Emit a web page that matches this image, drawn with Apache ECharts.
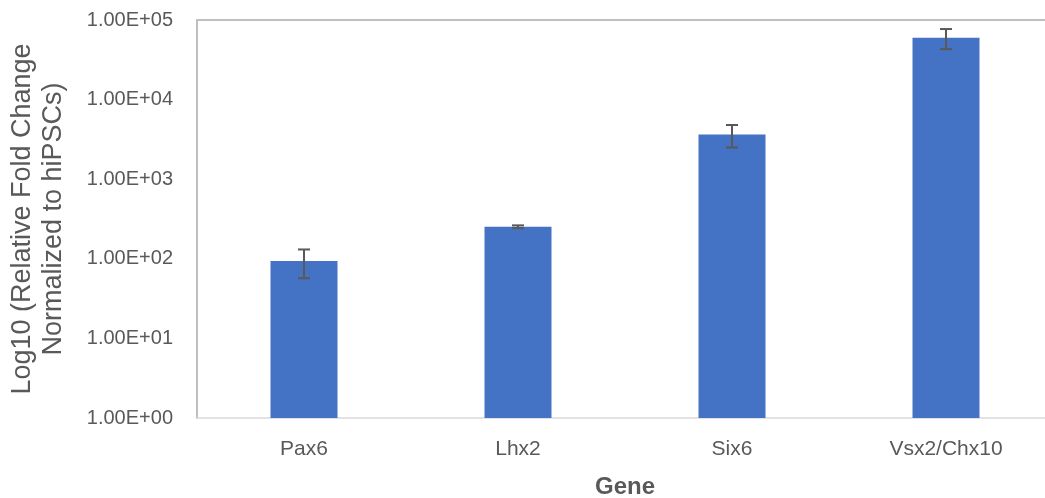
<!DOCTYPE html>
<html>
<head>
<meta charset="utf-8">
<script src="https://cdn.jsdelivr.net/npm/echarts@6/dist/echarts.min.js"></script>
<style>
html,body{margin:0;padding:0;background:#fff;}
#chart{width:1045px;height:498px;}
</style>
</head>
<body>
<div id="chart"></div>
<script>
const categories = ['Pax6', 'Lhx2', 'Six6', 'Vsx2/Chx10'];
const means = [94, 253, 3650, 60000];
const errors = [37, 10, 1150, 17000];
const yTicks = [1, 10, 100, 1000, 10000, 100000];

function sciLabel(v) {
  const e = Math.round(Math.log10(v));
  const m = v / Math.pow(10, e);
  const es = (e < 0 ? '-' : '+') + String(Math.abs(e)).padStart(2, '0');
  return m.toFixed(2) + 'E' + es;
}

const errData = categories.map((c, i) => [i, means[i] - errors[i], means[i] + errors[i]]);

const chart = echarts.init(document.getElementById('chart'), null, {renderer: 'canvas'});
chart.setOption({
  animation: false,
  grid: {left: 197, right: -8, top: 20, bottom: 80, containLabel: false, outerBoundsMode: 'none'},
  xAxis: [{
    type: 'category',
    data: categories,
    position: 'bottom',
    axisLine: {show: true, lineStyle: {color: '#d9d9d9', width: 1.5}},
    axisTick: {show: false},
    axisLabel: {color: '#595959', fontSize: 21, fontFamily: 'Liberation Sans', margin: 21},
    name: 'Gene',
    nameLocation: 'middle',
    nameGap: 57,
    nameTextStyle: {color: '#595959', fontSize: 24, fontWeight: 'bold', fontFamily: 'Liberation Sans'}
  }, {
    type: 'category',
    data: categories,
    position: 'top',
    axisLine: {show: true, lineStyle: {color: '#bfbfbf', width: 2}},
    axisTick: {show: false},
    axisLabel: {show: false}
  }],
  yAxis: {
    type: 'log',
    logBase: 10,
    min: yTicks[0],
    max: yTicks[yTicks.length - 1],
    axisLine: {show: true, lineStyle: {color: '#bfbfbf', width: 2}},
    axisTick: {show: false},
    splitLine: {show: false},
    axisLabel: {color: '#595959', fontSize: 20, fontFamily: 'Liberation Sans', margin: 24, formatter: sciLabel},
    name: 'Log10 (Relative Fold Change\nNormalized to hiPSCs)',
    nameLocation: 'middle',
    nameGap: 128,
    nameRotate: 90,
    nameTextStyle: {color: '#595959', fontSize: 27, fontFamily: 'Liberation Sans', lineHeight: 31}
  },
  series: [{
    type: 'bar',
    data: means,
    barWidth: 67,
    itemStyle: {color: '#4472C4'},
    z: 2
  }, {
    type: 'custom',
    data: errData,
    z: 3,
    renderItem: function (params, api) {
      const i = api.value(0);
      const lo = api.coord([i, api.value(1)]);
      const hi = api.coord([i, api.value(2)]);
      const hw = 6;
      const st = {stroke: '#595959', lineWidth: 2};
      return {
        type: 'group',
        children: [
          {type: 'line', shape: {x1: hi[0], y1: hi[1], x2: lo[0], y2: lo[1]}, style: st},
          {type: 'line', shape: {x1: hi[0] - hw, y1: hi[1], x2: hi[0] + hw, y2: hi[1]}, style: st},
          {type: 'line', shape: {x1: lo[0] - hw, y1: lo[1], x2: lo[0] + hw, y2: lo[1]}, style: st}
        ]
      };
    }
  }]
});
</script>
</body>
</html>
